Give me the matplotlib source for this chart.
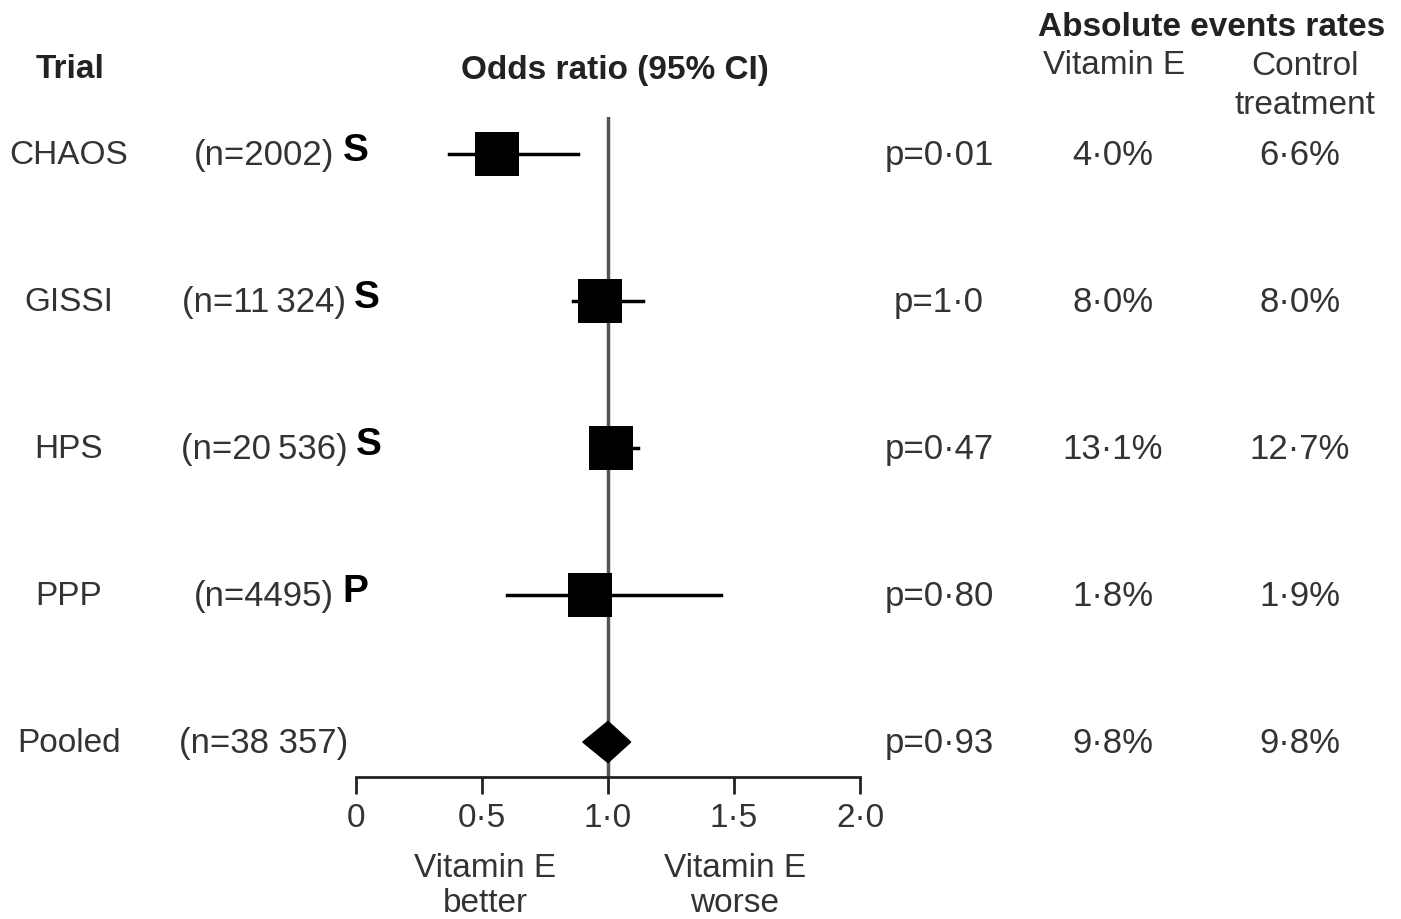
import matplotlib.pyplot as plt
import matplotlib.transforms as mtransforms
from matplotlib import font_manager
from matplotlib.patches import Polygon

trials = ['CHAOS', 'GISSI', 'HPS', 'PPP']
sizes = ['(n=2002)', '(n=11\u2009324)', '(n=20\u2009536)', '(n=4495)']
designs = ['S', 'S', 'S', 'P']
odds = [0.56, 0.97, 1.01, 0.93]
ci_low = [0.37, 0.86, 0.94, 0.60]
ci_high = [0.88, 1.14, 1.12, 1.45]
p_values = ['p=0·01', 'p=1·0', 'p=0·47', 'p=0·80']
rate_vit = ['4·0%', '8·0%', '13·1%', '1·8%']
rate_ctl = ['6·6%', '8·0%', '12·7%', '1·9%']

pooled_name = 'Pooled'
pooled_size = '(n=38 357)'
pooled_or, pooled_low, pooled_high = 1.00, 0.90, 1.09
pooled_p = 'p=0·93'
pooled_vit = '9·8%'
pooled_ctl = '9·8%'

xticks = [0, 0.5, 1.0, 1.5, 2.0]
xtick_labels = ['0', '0·5', '1·0', '1·5', '2·0']

W, H = 1401, 920
avail = {f.name for f in font_manager.fontManager.ttflist}
regular = ['Liberation Sans', 'DejaVu Sans']
if 'Liberation Sans Narrow' in avail:
    bold_fam = ['Liberation Sans Narrow', 'DejaVu Sans']
    bold_size = 28
else:
    bold_fam = ['Liberation Sans', 'DejaVu Sans']
    bold_size = 24
plt.rcParams['font.family'] = regular

TXT = '#333333'
FS = 24


def px(x):
    return x / W


def py(y):
    return 1 - y / H


fig = plt.figure(figsize=(W / 100, H / 100), dpi=100)
ax = fig.add_axes([px(356), py(778), px(860) - px(356), py(118) - py(778)])

n_rows = len(trials) + 1
row_y = list(range(n_rows))
ax.set_xlim(0, 2)
ax.set_ylim(4.238, -0.252)

# reference line at 1
ax.axvline(1.0, color='#555555', lw=2.5, zorder=1)

for i in range(len(trials)):
    ax.plot([ci_low[i], ci_high[i]], [row_y[i], row_y[i]], color='black', lw=2.5, zorder=2)
    ax.plot(odds[i], row_y[i], marker='s', markersize=31, color='black',
            markeredgewidth=0, zorder=3)

yp = row_y[-1]
h = 0.14
ax.add_patch(Polygon([(pooled_low, yp), (pooled_or, yp - h), (pooled_high, yp), (pooled_or, yp + h)],
                     closed=True, facecolor='black', edgecolor='black', zorder=3))

for s in ['top', 'left', 'right']:
    ax.spines[s].set_visible(False)
ax.spines['bottom'].set_linewidth(2)
ax.spines['bottom'].set_color('#222222')
ax.set_yticks([])
ax.set_xticks(xticks)
ax.set_xticklabels(xtick_labels, fontsize=FS, color=TXT)
ax.tick_params(axis='x', length=12, width=2, color='#222222', pad=6)

trans = mtransforms.blended_transform_factory(fig.transFigure, ax.transData)

names = trials + [pooled_name]
ns = sizes + [pooled_size]
ps = p_values + [pooled_p]
vits = rate_vit + [pooled_vit]
ctls = rate_ctl + [pooled_ctl]
for i in range(n_rows):
    y = row_y[i]
    ax.text(px(69), y, names[i], transform=trans, ha='center', va='center', fontsize=FS, color=TXT)
    nt = ax.text(px(264), y, ns[i], transform=trans, ha='center', va='center', fontsize=FS + 1, color=TXT)
    if i < len(designs):
        ax.annotate(designs[i], xy=(1, 0.5), xycoords=nt, xytext=(6, 3), textcoords='offset points',
                    ha='left', va='center', fontsize=28, fontweight='bold', color='black')
    ax.text(px(939), y, ps[i], transform=trans, ha='center', va='center', fontsize=FS + 1, color=TXT)
    ax.text(px(1113), y, vits[i], transform=trans, ha='center', va='center', fontsize=FS + 1, color=TXT)
    ax.text(px(1300), y, ctls[i], transform=trans, ha='center', va='center', fontsize=FS + 1, color=TXT)

# headers
fig.text(px(70), py(70), 'Trial', ha='center', va='center', fontsize=bold_size,
         fontweight='bold', family=bold_fam, color='#222222')
fig.text(px(615), py(70), 'Odds ratio (95% CI)', ha='center', va='center', fontsize=bold_size,
         fontweight='bold', family=bold_fam, color='#222222')
fig.text(px(1212), py(27), 'Absolute events rates', ha='center', va='center', fontsize=bold_size,
         fontweight='bold', family=bold_fam, color='#222222')
fig.text(px(1114), py(66), 'Vitamin E', ha='center', va='center', fontsize=FS, color=TXT)
fig.text(px(1305), py(86), 'Control\ntreatment', ha='center', va='center', fontsize=FS,
         color=TXT, linespacing=1.3)

fig.text(px(485), py(886), 'Vitamin E\nbetter', ha='center', va='center', fontsize=FS,
         color=TXT, linespacing=1.2)
fig.text(px(735), py(886), 'Vitamin E\nworse', ha='center', va='center', fontsize=FS,
         color=TXT, linespacing=1.2)

fig.savefig('out.png', dpi=100)
